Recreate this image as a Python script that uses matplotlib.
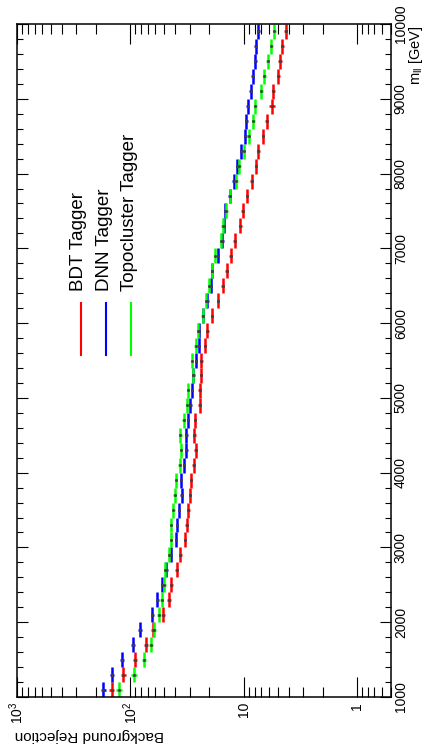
import numpy as np
import matplotlib
matplotlib.use("Agg")
import matplotlib.pyplot as plt
from matplotlib.ticker import (FixedLocator, FixedFormatter, LogLocator,
                               NullFormatter, MultipleLocator)
from matplotlib.lines import Line2D

plt.rcParams['font.family'] = ['Liberation Sans', 'DejaVu Sans']
plt.rcParams['mathtext.fontset'] = 'custom'
plt.rcParams['mathtext.rm'] = 'Liberation Sans'
plt.rcParams['mathtext.it'] = 'Liberation Sans:italic'

# dilepton mass bins (GeV), 200 GeV wide
mll = np.arange(1100, 10000, 200)
half_bin = 100

bdt_rej = [146, 115, 91, 72.6, 63.4, 51.2, 45.5, 43.5, 38.9, 36.4,
           32.9, 31.8, 30.8, 29.7, 29.1, 27.6, 26.5, 27.2, 26.9, 24.4,
           24.4, 23.9, 23.6, 21.9, 20.9, 19.1, 16.9, 15.3, 14.1, 13.0,
           12.0, 10.7, 10.2, 9.3, 8.5, 7.8, 7.4, 6.75, 6.25, 5.65,
           5.47, 4.97, 4.77, 4.58, 4.25]
dnn_rej = [173, 145, 119, 95, 82, 64, 58, 52.5, 48, 44,
           39.7, 38.5, 37, 35.2, 35.7, 33.4, 32, 32, 31.1, 29.5,
           28.5, 27.7, 26.5, 24.9, 24.9, 22.7, 20.9, 19.4, 18.9, 16.8,
           15.4, 15.0, 14.5, 13.3, 12.2, 11.4, 10.5, 9.7, 9.5, 9.2,
           8.65, 8.3, 7.9, 7.8, 7.4]
topo_rej = [126, 92.7, 75.7, 65.3, 61.8, 56.1, 52.8, 50.4, 49.1, 45.3,
            43.7, 43.7, 41.7, 40.6, 39.5, 36.6, 35.7, 36.2, 33.8, 31.6,
            30.8, 27.8, 28.4, 26.5, 25.3, 23.0, 21.3, 20.1, 19.0, 17.8,
            15.9, 15.3, 14.2, 13.2, 11.6, 10.9, 9.98, 9.0, 8.2, 7.9,
            7.0, 6.56, 6.1, 5.7, 5.36]

bdt_err = [8, 6, 4, 3, 2.4, 1.8, 1.5, 1.4, 1.2, 1.1,
           0.95, 0.9, 0.85, 0.8, 0.8, 0.75, 0.7, 0.72, 0.7, 0.62,
           0.62, 0.6, 0.6, 0.55, 0.52, 0.48, 0.42, 0.38, 0.35, 0.32,
           0.3, 0.27, 0.26, 0.24, 0.22, 0.2, 0.19, 0.18, 0.17, 0.35,
           0.16, 0.15, 0.15, 0.14, 0.14]
dnn_err = [9, 7, 5.5, 4, 3, 2.2, 1.8, 1.5, 1.3, 1.2,
           1.0, 0.95, 0.9, 0.85, 0.85, 0.8, 0.75, 0.75, 0.7, 0.7,
           0.65, 0.65, 0.6, 0.6, 0.6, 0.55, 0.5, 0.5, 0.45, 0.45,
           0.4, 0.4, 0.4, 0.38, 0.35, 0.33, 0.32, 0.3, 0.3, 0.3,
           0.28, 0.27, 0.26, 0.26, 0.25]
topo_err = [7, 5, 3.5, 2.8, 2.4, 2.0, 1.8, 1.6, 1.5, 1.3,
            1.2, 1.2, 1.1, 1.05, 1.0, 0.95, 0.9, 0.9, 0.85, 0.8,
            0.75, 0.7, 0.7, 0.65, 0.62, 0.56, 0.52, 0.5, 0.47, 0.44,
            0.4, 0.38, 0.35, 0.33, 0.3, 0.28, 0.26, 0.24, 0.22, 0.21,
            0.2, 0.19, 0.18, 0.17, 0.16]

series = [
    ('BDT Tagger', bdt_rej, bdt_err, '#ff0000'),
    ('DNN Tagger', dnn_rej, dnn_err, '#0000ff'),
    ('Topocluster Tagger', topo_rej, topo_err, '#00ff00'),
]

W, H = 425, 749
fig = plt.figure(figsize=(W / 100, H / 100), dpi=100)
ax = fig.add_axes([17 / W, 52 / H, 374 / W, 673 / H])

# canvas is turned on its side: rejection runs left->right, mass bottom->top
for name, rej, err, col in series:
    ax.errorbar(rej, mll, xerr=err, yerr=half_bin, fmt='s', ms=1.0,
                mfc='#404040', mec='#404040', ecolor=col, elinewidth=1.8,
                capsize=0, color=col)

ax.set_xscale('log')
ax.set_xlim(1000, 0.5)
ax.set_ylim(1000, 10000)

ax.xaxis.set_major_locator(FixedLocator([1, 10, 100, 1000]))
ax.xaxis.set_major_formatter(FixedFormatter(['1', '10', '$10^{2}$', '$10^{3}$']))
ax.xaxis.set_minor_locator(LogLocator(base=10, subs=np.arange(2, 10)))
ax.xaxis.set_minor_formatter(NullFormatter())
ax.yaxis.set_major_locator(MultipleLocator(1000))
ax.yaxis.set_minor_locator(MultipleLocator(200))

ax.tick_params(axis='x', which='major', direction='in', length=14.4, width=0.8,
               top=True, bottom=True, labelsize=10, labelrotation=90, pad=3.6)
ax.tick_params(axis='x', which='minor', direction='in', length=7.2, width=0.8,
               top=True, bottom=True)
ax.tick_params(axis='y', which='major', direction='in', length=8, width=0.8,
               left=True, right=True, labelleft=False, labelright=True,
               labelsize=10, labelrotation=90, pad=2.0)
ax.tick_params(axis='y', which='minor', direction='in', length=4.3, width=0.8,
               left=True, right=True)
for lab in ax.get_yticklabels():
    lab.set_va('center')
    lab.set_ha('left')
for sp in ax.spines.values():
    sp.set_linewidth(1.1)

# axis titles
fig.text(416 / W, 1 - 25 / H, r'm$_{\mathrm{ll}}$ [GeV]', rotation=90,
         ha='center', va='top', fontsize=10.5)
fig.text(15 / W, 1 - 735 / H, 'Background Rejection', rotation=180,
         ha='left', va='center', fontsize=11)

# legend
leg_x = [80.7, 106, 131.3]
for (name, rej, err, col), lx in zip(series, leg_x):
    fig.add_artist(Line2D([lx / W, lx / W], [1 - 303 / H, 1 - 355 / H],
                          color=col, lw=1.5, transform=fig.transFigure))
    fig.text((lx - 1.8) / W, 1 - 291 / H, name, rotation=90,
             ha='center', va='bottom', fontsize=13.5)

fig.savefig('out.png', dpi=100)
